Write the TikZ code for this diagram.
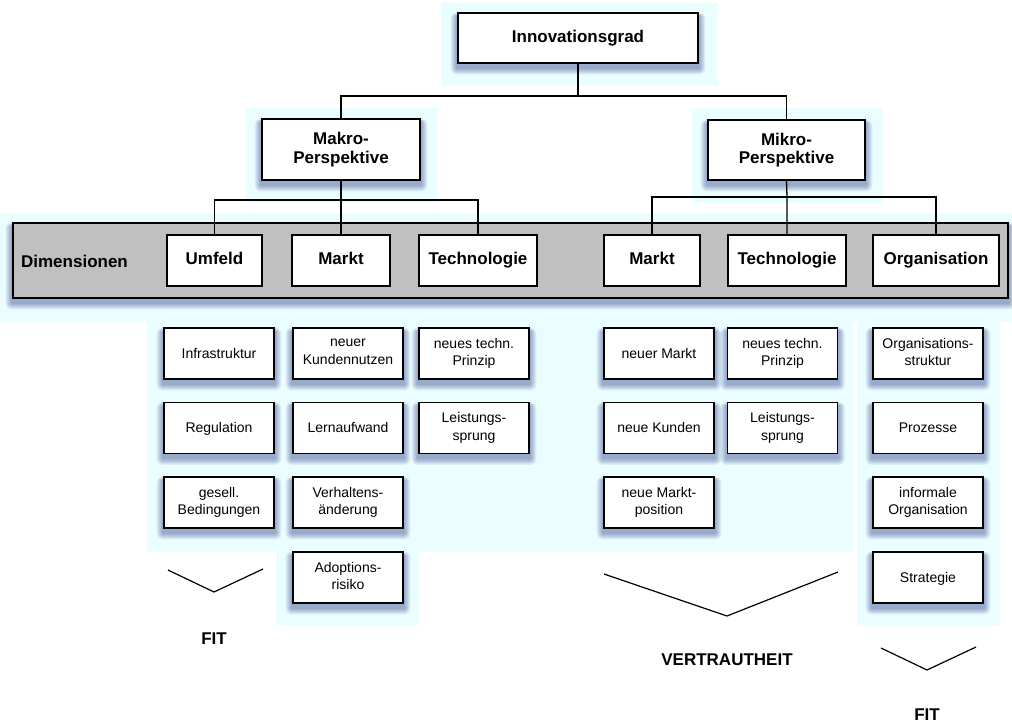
\documentclass[tikz,border=0pt]{standalone}
\usepackage{fontspec}
\setmainfont{Liberation Sans}
\usetikzlibrary{calc}

\definecolor{haze}{RGB}{234,253,255}
\definecolor{bandgray}{RGB}{192,192,192}
\definecolor{shadowblue}{RGB}{35,45,125}

\pgfdeclarelayer{haze}
\pgfdeclarelayer{shade}
\pgfsetlayers{haze,shade,main}

% struts that keep the lettering placed the same whatever the descenders
\newcommand\headstrut{\rule[-3.8pt]{0pt}{16pt}}
\newcommand\itemstrut{\rule[-3.2pt]{0pt}{16pt}}

\tikzset{
  box/.style={draw=black, line width=1.4pt, fill=white, inner sep=0pt, align=center},
  headbox/.style={box, font=\fontsize{17}{18.5}\selectfont\bfseries,
                  execute at begin node=\headstrut, execute at end node=\headstrut},
  itembox/.style={box, minimum width=110pt, minimum height=51pt,
                  font=\fontsize{14}{17.5}\selectfont,
                  execute at begin node=\itemstrut, execute at end node=\itemstrut},
  link/.style={line width=1.3pt},
  chevron/.style={line width=1.2pt},
  caption/.style={inner sep=0pt, font=\fontsize{17}{19}\selectfont\bfseries},
}

% soft bluish shadow under a node, built from stacked translucent rectangles
\newcommand\castshadow[1]{%
  \begin{pgfonlayer}{shade}
    \foreach \k in {1,...,6}{
      \fill[shadowblue, opacity=0.08, rounded corners=\k pt]
        ($(#1.south west)+(-\k*1.1pt,-\k*1.1pt-4pt)$) rectangle
        ($(#1.north east)+(\k*1.1pt,\k*0.6pt-4pt)$);
    }
  \end{pgfonlayer}}

\begin{document}
\begin{tikzpicture}[x=1pt,y=-1pt]
\useasboundingbox (0,0) rectangle (1012,724);

% light background panels
\begin{pgfonlayer}{haze}
  \fill[haze] (441,3) rectangle (718,86);
  \fill[haze] (246,108) rectangle (438,203);
  \fill[haze] (692,108) rectangle (883,203);
  \fill[haze] (0,213) rectangle (1012,322);
  \fill[haze] (147,318) rectangle (853,552);
  \fill[haze] (276,550) rectangle (419,625);
  \fill[haze] (857,318) rectangle (1000,626);
\end{pgfonlayer}

% hierarchy heads
\node[headbox, minimum width=240pt, minimum height=50pt] (top) at (578,38) {Innovationsgrad};
\node[headbox, minimum width=158pt, minimum height=61pt] (makro) at (341,149.5) {Makro-\\Perspektive};
\node[headbox, minimum width=157pt, minimum height=60pt] (mikro) at (786.5,150) {Mikro-\\Perspektive};

% dimension band
\node[draw=black, line width=1.4pt, fill=bandgray, inner sep=0pt,
      minimum width=995pt, minimum height=75pt] (band) at (510.5,260.5) {};
\node[caption] (dimlabel) at (74.5,261) {Dimensionen};

\node[headbox, minimum width=95pt,  minimum height=51pt] (umfeld) at (214.5,260.5) {Umfeld};
\node[headbox, minimum width=98pt,  minimum height=51pt] (marktA) at (341,260.5) {Markt};
\node[headbox, minimum width=118pt, minimum height=51pt] (techA)  at (478,260.5) {Technologie};
\node[headbox, minimum width=96pt,  minimum height=51pt] (marktB) at (652,260.5) {Markt};
\node[headbox, minimum width=118pt, minimum height=51pt] (techB)  at (787,260.5) {Technologie};
\node[headbox, minimum width=126pt, minimum height=51pt] (orga)   at (936,260.5) {Organisation};

% detail items
\node[itembox] (u1) at (219,353.5) {Infrastruktur};
\node[itembox] (u2) at (219,428)   {Regulation};
\node[itembox] (u3) at (219,502.5) {gesell.\\Bedingungen};

\node[itembox] (ma1) at (348,353.5) {neuer\\Kundennutzen};
\node[itembox] (ma2) at (348,428)   {Lernaufwand};
\node[itembox] (ma3) at (348,502.5) {Verhaltens-\\änderung};
\node[itembox] (ma4) at (348,577.5) {Adoptions-\\risiko};

\node[itembox] (ta1) at (474,353.5) {neues techn.\\Prinzip};
\node[itembox] (ta2) at (474,428)   {Leistungs-\\sprung};

\node[itembox] (mb1) at (659,353.5) {neuer Markt};
\node[itembox] (mb2) at (659,428)   {neue Kunden};
\node[itembox] (mb3) at (659,502.5) {neue Markt-\\position};

\node[itembox] (tb1) at (782.5,353.5) {neues techn.\\Prinzip};
\node[itembox] (tb2) at (782.5,428)   {Leistungs-\\sprung};

\node[itembox] (o1) at (928,353.5) {Organisations-\\struktur};
\node[itembox] (o2) at (928,428)   {Prozesse};
\node[itembox] (o3) at (928,502.5) {informale\\Organisation};
\node[itembox] (o4) at (928,577.5) {Strategie};

% shadows
\foreach \n in {top,makro,mikro,band,u1,u2,u3,ma1,ma2,ma3,ma4,ta1,ta2,mb1,mb2,mb3,tb1,tb2,o1,o2,o3,o4}
  {\castshadow{\n}}

% tree connectors
\coordinate (jTop) at (578,96);
\draw[link] (top.south) -- (jTop);
\draw[link] (jTop) -| (makro.north);
\draw[link] (jTop) -| (mikro.north);

\coordinate (jMa) at (341,200);
\draw[link] (makro.south) -- (jMa) -- (marktA.north);
\draw[link] (jMa) -| (umfeld.north);
\draw[link] (jMa) -| (techA.north);

\coordinate (jMi) at (787,197);
\draw[link] (mikro.south) -- (jMi) -- (techB.north);
\draw[link] (jMi) -| (marktB.north);
\draw[link] (jMi) -| (orga.north);

% summary chevrons
\coordinate (fa1) at (168,570);
\coordinate (fa2) at (214,592);
\coordinate (fa3) at (263,569);
\draw[chevron] (fa1) -- (fa2) -- (fa3);
\node[caption] (fitA) at (214,639) {FIT};

\coordinate (va1) at (604,574);
\coordinate (va2) at (727,616);
\coordinate (va3) at (838,572);
\draw[chevron] (va1) -- (va2) -- (va3);
\node[caption] (vertraut) at (727,660) {VERTRAUTHEIT};

\coordinate (fb1) at (881,648);
\coordinate (fb2) at (927,670);
\coordinate (fb3) at (976,647);
\draw[chevron] (fb1) -- (fb2) -- (fb3);
\node[caption] (fitB) at (927,715) {FIT};
\end{tikzpicture}
\end{document}
